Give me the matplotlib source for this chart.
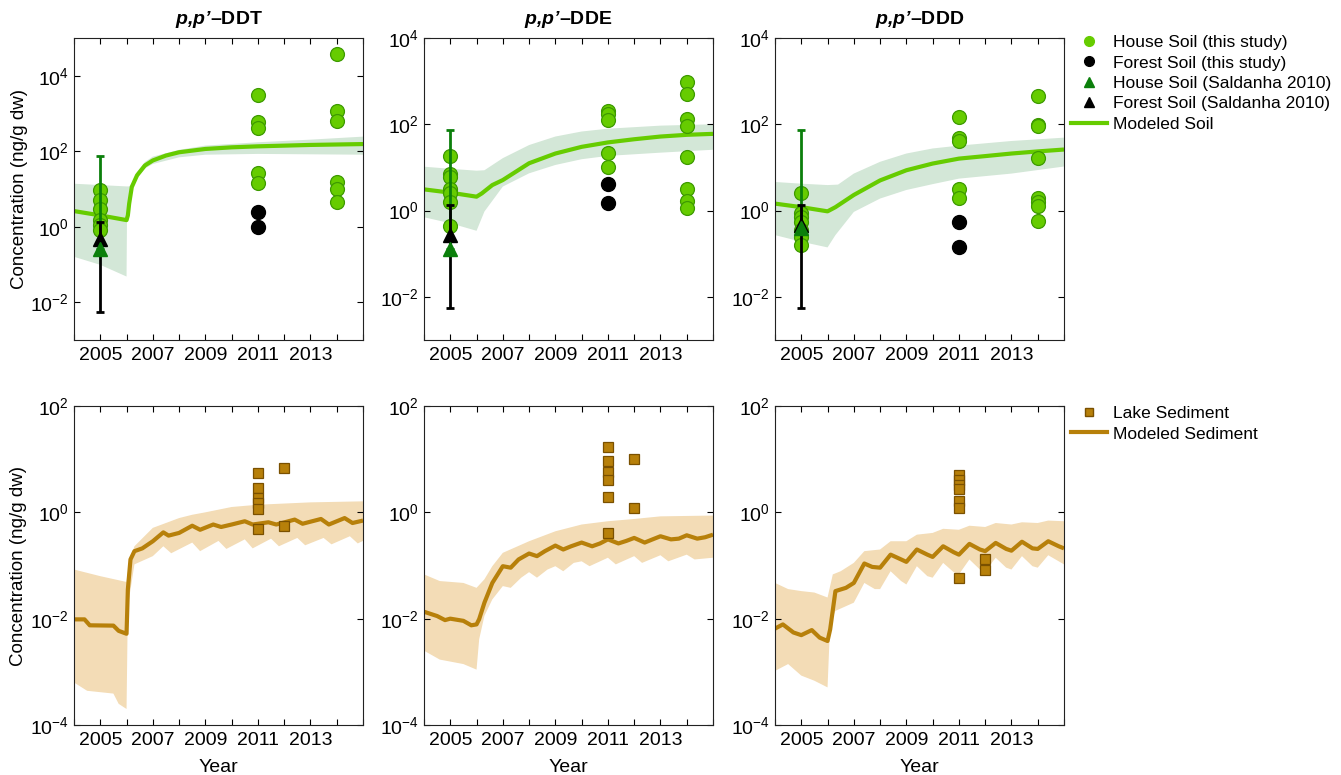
import numpy as np
import matplotlib
matplotlib.use("Agg")
import matplotlib.pyplot as plt
from matplotlib.lines import Line2D

plt.rcParams["font.family"] = ["Liberation Sans", "DejaVu Sans"]
plt.rcParams["font.size"] = 13
plt.rcParams["mathtext.fontset"] = "custom"
plt.rcParams["mathtext.rm"] = "Liberation Sans"
plt.rcParams["mathtext.it"] = "Liberation Sans:italic"
plt.rcParams["mathtext.bf"] = "Liberation Sans:bold"
plt.rcParams["mathtext.bfit"] = "Liberation Sans:italic:bold"

compounds = ["DDT", "DDE", "DDD"]

# ---- soil measurements (ng/g dw) ----
ddt_house_2005 = [9.4, 5.1, 3.0, 1.5, 1.1, 0.83]
ddt_house_2011 = [3160, 590, 420, 27, 14]
ddt_forest_2011 = [2.4, 1.0]
ddt_house_2014 = [38000, 1150, 650, 15, 9.8, 4.4]
dde_house_2005 = [18.5, 7.1, 6.1, 3.1, 2.5, 1.56, 0.45]
dde_house_2011 = [204, 171, 126, 22, 10.4]
dde_forest_2011 = [4.1, 1.5]
dde_house_2014 = [980, 500, 134, 89, 17.8, 3.2, 1.7, 1.13]
ddd_house_2005 = [2.6, 0.88, 0.71, 0.55, 0.35, 0.25, 0.16]
ddd_house_2011 = [148, 48, 42, 3.2, 2.0]
ddd_forest_2011 = [0.54, 0.146]
ddd_house_2014 = [457, 95, 90, 16.8, 1.97, 1.56, 1.26, 0.56]

# Saldanha 2010 (value, range)
sal_house = [0.25, 0.13, 0.40]
sal_forest = [0.48, 0.27, 0.46]
sal_house_hi = 74
sal_forest_lo = 0.0055
sal_forest_hi = 1.35

# ---- modeled soil ----
ddt_soil_yr = [2004, 2005, 2006, 2006.05, 2006.1, 2006.2, 2006.4, 2006.7, 2007, 2007.5, 2008, 2009, 2010, 2011, 2013, 2015]
ddt_soil = [2.6, 2.0, 1.5, 2.0, 4.1, 11.3, 23, 42, 57, 77, 94, 115, 127, 135, 147, 155]
ddt_soil_up_yr = [2004, 2006, 2006.1, 2006.2, 2006.4, 2006.7, 2007, 2008, 2009, 2011, 2013, 2015]
ddt_soil_up = [13.8, 11.7, 11.7, 14, 28, 52, 72, 109, 141, 173, 203, 244]
ddt_soil_lo_yr = [2004, 2005, 2006, 2006.02, 2006.1, 2006.2, 2006.4, 2006.7, 2007, 2008, 2009, 2011, 2015]
ddt_soil_lo = [0.16, 0.098, 0.048, 3.0, 3.6, 9.5, 19, 35, 46, 69, 81, 85, 81]

dde_soil_yr = [2004, 2005, 2006, 2006.2, 2006.6, 2007, 2008, 2009, 2010, 2011, 2012, 2013, 2014, 2015]
dde_soil = [3.1, 2.6, 2.1, 2.5, 3.9, 5.1, 12.5, 21, 30, 38, 45, 52, 57, 60]
dde_soil_up_yr = [2004, 2005, 2006, 2006.3, 2007, 2008, 2009, 2010, 2011, 2013, 2015]
dde_soil_up = [10.4, 9.3, 8.4, 8.6, 16.4, 33, 52, 68, 79, 93, 100]
dde_soil_lo_yr = [2004, 2005, 2006, 2006.3, 2007, 2008, 2009, 2010, 2011, 2013, 2015]
dde_soil_lo = [0.7, 0.51, 0.34, 0.95, 3.6, 7.3, 11.4, 15.5, 18.5, 22, 25.7]

ddd_soil_yr = [2004, 2005, 2006, 2006.3, 2007, 2008, 2009, 2010, 2011, 2012, 2013, 2014, 2015]
ddd_soil = [1.45, 1.2, 0.96, 1.2, 2.3, 5.0, 8.6, 12.3, 16, 18.3, 21, 23.5, 26]
ddd_soil_up_yr = [2004, 2005, 2006, 2006.4, 2007, 2008, 2009, 2010, 2011, 2013, 2015]
ddd_soil_up = [4.6, 4.2, 3.9, 4.0, 7.2, 13.5, 21, 27.5, 32, 41, 49]
ddd_soil_lo_yr = [2004, 2005, 2006, 2006.3, 2007, 2008, 2009, 2010, 2011, 2013, 2015]
ddd_soil_lo = [0.27, 0.19, 0.14, 0.27, 0.93, 1.9, 3.0, 4.1, 5.5, 7.2, 10.5]

# ---- lake sediment measurements ----
ddt_lake_2011 = [5.6, 2.9, 1.86, 1.5, 1.15, 0.49]
ddt_lake_2012 = [6.8, 0.55]
dde_lake_2011 = [16.8, 9.3, 5.8, 4.1, 1.94, 0.41]
dde_lake_2012 = [10, 1.2]
ddd_lake_2011 = [5.1, 4.1, 3.3, 2.8, 1.65, 1.2, 0.059]
ddd_lake_2012 = [0.13, 0.082]

# ---- modeled sediment ----
ddt_sed_yr = [2004, 2004.4, 2004.6, 2005.5, 2005.7, 2006, 2006.05, 2006.15, 2006.3, 2006.6, 2007, 2007.4, 2007.6,
              2008, 2008.5, 2008.8, 2009.3, 2009.6, 2010, 2010.5, 2010.8, 2011.4, 2011.7, 2012.4, 2012.7,
              2013.4, 2013.7, 2014.3, 2014.6, 2015]
ddt_sed = [0.0097, 0.0097, 0.0075, 0.0074, 0.0059, 0.0052, 0.0355, 0.13, 0.186, 0.21, 0.286, 0.42, 0.365,
           0.41, 0.56, 0.47, 0.59, 0.53, 0.59, 0.68, 0.59, 0.65, 0.59, 0.73, 0.61,
           0.75, 0.59, 0.78, 0.63, 0.70]
ddt_sed_up_yr = [2004, 2005, 2006, 2006.1, 2006.3, 2007, 2007.5, 2008, 2008.5, 2009, 2010, 2011, 2013, 2015]
ddt_sed_up = [0.084, 0.063, 0.049, 0.112, 0.23, 0.51, 0.63, 0.78, 0.9, 1.0, 1.26, 1.39, 1.54, 1.61]
ddt_sed_lo_yr = [2004, 2004.5, 2005.5, 2005.7, 2006, 2006.05, 2006.3, 2007, 2007.4, 2007.7, 2008.5, 2008.8,
                 2009.5, 2009.8, 2010.5, 2010.8, 2011.5, 2011.8, 2012.5, 2012.8, 2013.5, 2013.8, 2014.5, 2014.8, 2015]
ddt_sed_lo = [0.00063, 0.00044, 0.00039, 0.00025, 0.0002, 0.017, 0.105, 0.15, 0.23, 0.17, 0.27, 0.186,
              0.29, 0.205, 0.31, 0.21, 0.32, 0.23, 0.33, 0.24, 0.33, 0.25, 0.355, 0.26, 0.29]

dde_sed_yr = [2004, 2004.5, 2004.8, 2005, 2005.5, 2005.8, 2006, 2006.1, 2006.3, 2006.6, 2007, 2007.3, 2007.6,
              2008, 2008.3, 2008.6, 2009, 2009.3, 2009.6, 2010, 2010.4, 2010.7, 2011, 2011.4, 2011.7,
              2012, 2012.4, 2012.7, 2013, 2013.4, 2013.7, 2014, 2014.4, 2014.7, 2015]
dde_sed = [0.0135, 0.0112, 0.0094, 0.0100, 0.0091, 0.0075, 0.0078, 0.0098, 0.020, 0.047, 0.097, 0.091, 0.13,
           0.168, 0.15, 0.186, 0.237, 0.20, 0.23, 0.27, 0.23, 0.26, 0.31, 0.26, 0.29,
           0.33, 0.27, 0.31, 0.355, 0.31, 0.32, 0.37, 0.32, 0.34, 0.38]
dde_sed_up_yr = [2004, 2004.6, 2005.5, 2006, 2006.3, 2006.6, 2007, 2008, 2009, 2010, 2011, 2012, 2013, 2015]
dde_sed_up = [0.068, 0.051, 0.047, 0.038, 0.055, 0.097, 0.173, 0.286, 0.44, 0.59, 0.68, 0.75, 0.84, 0.87]
dde_sed_lo_yr = [2004, 2004.6, 2005.5, 2006, 2006.1, 2006.3, 2006.6, 2007, 2007.3, 2007.7, 2008, 2008.3, 2008.7,
                 2009, 2009.3, 2009.7, 2010, 2010.3, 2011, 2011.3, 2012, 2012.3, 2013, 2013.3, 2014, 2014.3, 2015]
dde_sed_lo = [0.0025, 0.0017, 0.0014, 0.0011, 0.0041, 0.0113, 0.023, 0.041, 0.038, 0.059, 0.075, 0.059, 0.084,
              0.097, 0.078, 0.112, 0.12, 0.097, 0.14, 0.105, 0.15, 0.112, 0.156, 0.12, 0.16, 0.13, 0.14]

ddd_sed_yr = [2004, 2004.3, 2004.7, 2005, 2005.4, 2005.7, 2006, 2006.1, 2006.3, 2006.7, 2007, 2007.4, 2007.7,
              2008, 2008.4, 2008.8, 2009, 2009.4, 2009.8, 2010, 2010.4, 2010.8, 2011, 2011.4, 2011.8,
              2012, 2012.4, 2012.8, 2013, 2013.4, 2013.8, 2014, 2014.4, 2014.8, 2015]
ddd_sed = [0.0065, 0.0078, 0.0055, 0.0049, 0.0061, 0.0044, 0.0038, 0.0063, 0.033, 0.038, 0.047, 0.109, 0.094,
           0.091, 0.16, 0.13, 0.117, 0.20, 0.16, 0.145, 0.23, 0.178, 0.16, 0.255, 0.20,
           0.186, 0.266, 0.205, 0.19, 0.28, 0.21, 0.205, 0.286, 0.23, 0.21]
ddd_sed_up_yr = [2004, 2004.5, 2005, 2005.5, 2006, 2006.2, 2006.5, 2007, 2007.4, 2008, 2008.4, 2009, 2009.4,
                 2010, 2010.4, 2011, 2011.4, 2012, 2012.4, 2013, 2013.4, 2014, 2014.4, 2015]
ddd_sed_up = [0.047, 0.036, 0.033, 0.031, 0.025, 0.068, 0.078, 0.112, 0.186, 0.2, 0.286, 0.286, 0.38,
              0.41, 0.49, 0.47, 0.56, 0.53, 0.63, 0.59, 0.65, 0.63, 0.70, 0.68]
ddd_sed_lo_yr = [2004, 2004.5, 2005, 2005.5, 2006, 2006.1, 2006.3, 2007, 2007.4, 2007.8, 2008, 2008.4, 2008.8,
                 2009, 2009.4, 2009.8, 2010, 2010.4, 2010.8, 2011, 2011.4, 2011.8, 2012, 2012.4, 2012.8,
                 2013, 2013.4, 2013.8, 2014, 2014.4, 2015]
ddd_sed_lo = [0.00104, 0.0014, 0.00085, 0.00068, 0.00051, 0.0084, 0.014, 0.02, 0.047, 0.036, 0.036, 0.078, 0.051,
              0.044, 0.097, 0.063, 0.059, 0.112, 0.075, 0.068, 0.13, 0.084, 0.078, 0.14, 0.091,
              0.084, 0.15, 0.097, 0.091, 0.156, 0.105]

house = [(ddt_house_2005, ddt_house_2011, ddt_house_2014),
         (dde_house_2005, dde_house_2011, dde_house_2014),
         (ddd_house_2005, ddd_house_2011, ddd_house_2014)]
forest = [ddt_forest_2011, dde_forest_2011, ddd_forest_2011]
soil_model = [(ddt_soil_yr, ddt_soil, ddt_soil_up_yr, ddt_soil_up, ddt_soil_lo_yr, ddt_soil_lo),
              (dde_soil_yr, dde_soil, dde_soil_up_yr, dde_soil_up, dde_soil_lo_yr, dde_soil_lo),
              (ddd_soil_yr, ddd_soil, ddd_soil_up_yr, ddd_soil_up, ddd_soil_lo_yr, ddd_soil_lo)]
lake = [(ddt_lake_2011, ddt_lake_2012), (dde_lake_2011, dde_lake_2012), (ddd_lake_2011, ddd_lake_2012)]
sed_model = [(ddt_sed_yr, ddt_sed, ddt_sed_up_yr, ddt_sed_up, ddt_sed_lo_yr, ddt_sed_lo),
             (dde_sed_yr, dde_sed, dde_sed_up_yr, dde_sed_up, dde_sed_lo_yr, dde_sed_lo),
             (ddd_sed_yr, ddd_sed, ddd_sed_up_yr, ddd_sed_up, ddd_sed_lo_yr, ddd_sed_lo)]
soil_ylim_top = [1e5, 1e4, 1e4]

soil_green = "#66cc00"
soil_edge = "#3d9a00"
band_green = "#d3e7d7"
sal_green = "#0b7f0b"
sed_brown = "#b7800a"
sed_edge = "#7a5000"
band_brown = "#f3dcb6"

W, H = 1341, 775
fig = plt.figure(figsize=(W / 100, H / 100), dpi=100)
lefts = [74, 424, 775]
axw = 289


def style(ax, yticks):
    ax.set_xlim(2004, 2015)
    ax.set_xticks(range(2004, 2016))
    ax.set_xticklabels([str(y) if y % 2 == 1 and y < 2015 else "" for y in range(2004, 2016)])
    ax.set_yticks(yticks)
    ax.minorticks_off()
    ax.tick_params(direction="in", top=True, right=True, length=4, width=0.8, labelsize=14)
    ax.tick_params(axis="x", pad=5)
    for s in ax.spines.values():
        s.set_linewidth(0.8)
        s.set_color("#222222")


def band(ax, m, color):
    xs = np.concatenate([m[2], m[4][::-1]])
    ys = np.concatenate([m[3], m[5][::-1]])
    ax.fill(xs, ys, color=color, lw=0, zorder=1)
    ax.plot(m[0], m[1], color=color_line[color], lw=3, zorder=2, solid_capstyle="butt")


color_line = {band_green: soil_green, band_brown: sed_brown}

for i in range(3):
    # soil row
    ax = fig.add_axes([lefts[i] / W, 1 - 340 / H, axw / W, 302 / H])
    ax.set_yscale("log")
    ax.set_ylim(1e-3, soil_ylim_top[i])
    band(ax, soil_model[i], band_green)
    for yr, vals in zip([2005, 2011, 2014], house[i]):
        ax.plot([yr] * len(vals), vals, "o", ms=10, mfc=soil_green, mec=soil_edge, mew=0.9, zorder=3)
    ax.plot([2011] * len(forest[i]), forest[i], "o", ms=10, mfc="black", mec="black", zorder=3)
    ax.errorbar([2005], [sal_house[i]], yerr=[[0], [sal_house_hi - sal_house[i]]], fmt="none",
                ecolor=sal_green, elinewidth=2, capsize=3, capthick=2, zorder=4)
    ax.errorbar([2005], [sal_forest[i]], yerr=[[sal_forest[i] - sal_forest_lo], [sal_forest_hi - sal_forest[i]]],
                fmt="none", ecolor="black", elinewidth=2, capsize=3, capthick=2, zorder=4)
    ax.plot([2005], [sal_forest[i]], "^", ms=10, color="black", zorder=5)
    ax.plot([2005], [sal_house[i]], "^", ms=10, color=sal_green, zorder=5)
    style(ax, [1e-2, 1, 1e2, 1e4])
    ax.set_title(r"$\mathbfit{p{,}p’}$–" + compounds[i], fontweight="bold", fontsize=14, pad=10)
    if i == 0:
        ax.set_ylabel("Concentration (ng/g dw)", fontsize=13.5, labelpad=2)

    # sediment row
    ax = fig.add_axes([lefts[i] / W, 1 - 725 / H, axw / W, 319 / H])
    ax.set_yscale("log")
    ax.set_ylim(1e-4, 1e2)
    band(ax, sed_model[i], band_brown)
    for yr, vals in zip([2011, 2012], lake[i]):
        ax.plot([yr] * len(vals), vals, "s", ms=7.5, mfc=sed_brown, mec=sed_edge, mew=0.9, zorder=3)
    style(ax, [1e-4, 1e-2, 1, 1e2])
    ax.set_xlabel("Year", fontsize=14, labelpad=7)
    if i == 0:
        ax.set_ylabel("Concentration (ng/g dw)", fontsize=13.5, labelpad=2)

soil_handles = [
    Line2D([], [], ls="none", marker="o", ms=7, mfc=soil_green, mec=soil_green),
    Line2D([], [], ls="none", marker="o", ms=7, mfc="black", mec="black"),
    Line2D([], [], ls="none", marker="^", ms=7, color=sal_green),
    Line2D([], [], ls="none", marker="^", ms=7, color="black"),
    Line2D([], [], color=soil_green, lw=3),
]
soil_labels = ["House Soil (this study)", "Forest Soil (this study)", "House Soil (Saldanha 2010)",
               "Forest Soil (Saldanha 2010)", "Modeled Soil"]
fig.legend(soil_handles, soil_labels, loc="upper left", bbox_to_anchor=(1071 / W, 1 - 35 / H),
           frameon=False, fontsize=12.5, handlelength=2.1, handletextpad=0.3, labelspacing=0.3,
           borderpad=0, borderaxespad=0)

sed_handles = [
    Line2D([], [], ls="none", marker="s", ms=6, mfc=sed_brown, mec=sed_edge),
    Line2D([], [], color=sed_brown, lw=3),
]
fig.legend(sed_handles, ["Lake Sediment", "Modeled Sediment"], loc="upper left",
           bbox_to_anchor=(1071 / W, 1 - 406 / H), frameon=False, fontsize=12.5, handlelength=2.1,
           handletextpad=0.3, labelspacing=0.3, borderpad=0, borderaxespad=0)

fig.savefig("out.png", dpi=100)
